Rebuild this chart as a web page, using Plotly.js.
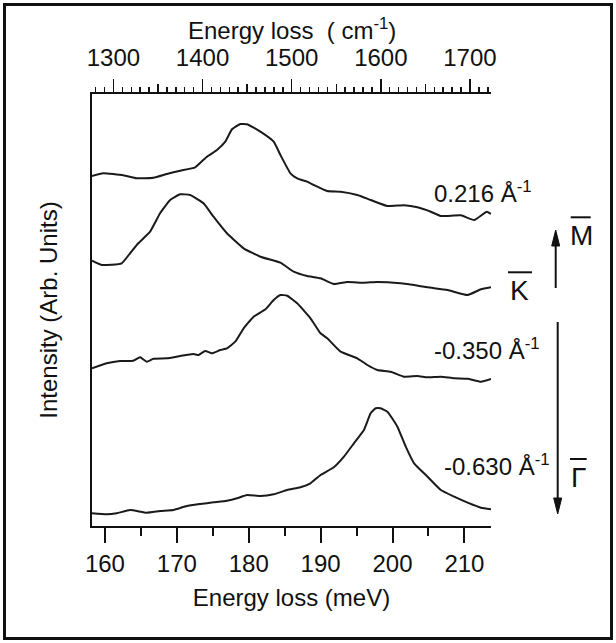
<!DOCTYPE html>
<html><head><meta charset="utf-8">
<script src="https://cdn.plot.ly/plotly-3.0.1.min.js"></script>
<style>html,body{margin:0;padding:0;background:#fff}#chart{width:616px;height:643px}</style>
</head><body><div id="chart"></div>
<script>
// ---- data (energy loss in meV, intensity in arbitrary units incl. vertical offset) ----
const energy_p0216 = [158.2,159.76,162.55,164.42,166.74,168.61,170.46,172.55,174.18,175.58,176.74,177.67,178.83,179.76,181.62,183.47,184.41,185.8,186.74,188.13,189.05,190.92,192.78,195.1,196.96,199.29,201.6,203.47,205.33,206.72,209.51,211.37,213.1,213.7];
const intensity_p0216 = [350,352.7,350.7,347.7,348.3,352,355.3,358.7,369.3,376,384.3,396.7,402,401.7,394.3,384.3,371,352.7,347.7,344.3,341,335,334.3,331,326,320,320.7,318.7,314.3,310,310.7,306,314.3,312];

const energy_K = [158.2,159.54,162.33,163.49,164.64,166.28,167.67,169.07,170.46,171.85,173.71,175.1,176.97,179.29,181.62,184.41,186.26,188.13,189.99,191.84,193.71,196.02,197.89,201.14,203.0,204.87,207.66,210.45,212.3,213.7];
const intensity_K = [265.3,261,262.7,272.7,282.7,294.3,312.7,326,331.7,331,322.7,309.3,292.7,277.7,269.3,263.3,254.3,250,247.7,242,244,243.3,244,242.7,241,238.7,236,231,236.7,238.7];

const energy_m0350 = [158.2,160.24,162.09,163.95,164.88,165.82,166.74,168.61,170.46,172.32,173.01,173.95,174.88,176.04,176.97,178.13,179.29,180.68,182.32,183.47,184.41,185.34,186.74,188.59,189.99,190.92,192.78,195.1,196.5,197.89,199.75,201.6,203.47,204.87,206.72,208.58,210.45,212.3,213.7];
const intensity_m0350 = [157.7,162.7,165,165.3,168.7,164.3,167.3,167.7,170,172,171,175,172.7,176,177.7,184.3,197.7,209.3,216.7,226,231,230.3,222.7,207.7,192.7,187.7,174.3,167.7,161,156,154.3,149.3,150,148.7,149.3,147.7,147.3,144.3,147];

const energy_m0630 = [158.2,160.24,161.63,163.49,165.82,167.67,169.53,171.39,173.25,175.1,176.97,178.37,179.76,181.62,183.47,185.34,187.2,188.59,189.99,191.84,193.24,194.63,196.02,196.96,197.66,198.35,199.29,200.68,201.84,203.0,204.87,206.72,208.58,210.45,212.3,213.7];
const intensity_m0630 = [12.7,11.7,12.7,16,13.3,15,16,20,22,23.7,25.3,27.7,31,30,31.7,36,38.7,42.7,51,58.7,69.3,82.7,96,112.7,117.7,117.7,114.3,99.3,79.3,62.7,49.3,36,29.3,23.3,18.3,16.7];

const meVTicks = [160,170,180,190,200,210];
const cmTicks = [1300,1400,1500,1600,1700];
const curveLabels = ['0.216 Å<sup>-1</sup>', '-0.350 Å<sup>-1</sup>', '-0.630 Å<sup>-1</sup>'];
const pointLabels = ['M', 'K', 'Γ'];
const topTitle = 'Energy loss\u00a0\u00a0( cm<sup>-1</sup>)';
const meVtoCm = 8.06554;
const meVRange = [158.2, 213.7];
const cmRange = meVRange.map(v => v * meVtoCm);

// ---- layout helpers (pixel -> paper) ----
const L = 92, T = 94, W = 399, H = 432;
const px = p => (p - L) / W;
const py = p => (T + H - p) / H;

const series = [
  [energy_p0216, intensity_p0216],
  [energy_K, intensity_K],
  [energy_m0350, intensity_m0350],
  [energy_m0630, intensity_m0630]
];
const traces = series.map(([x, y]) => ({
  x: x, y: y, type: 'scatter', mode: 'lines',
  line: {color: '#1a1a1a', width: 2, shape: 'spline', smoothing: 0.4},
  hoverinfo: 'x+y', showlegend: false
}));
// invisible carriers for the cm^-1 axes
['x2', 'x3'].forEach(ax => traces.push({
  x: energy_m0630.map(v => v * meVtoCm), y: intensity_m0630, xaxis: ax,
  type: 'scatter', mode: 'lines', opacity: 0, hoverinfo: 'skip', showlegend: false
}));

const font = 'Liberation Sans, Arial, Helvetica, sans-serif';
const ink = '#111';
const FS = 24;

const annotations = [
  {text: topTitle, x: 0.5, y: py(45), xanchor: 'center', yanchor: 'bottom', borderpad: 0},
  {text: curveLabels[0], x: px(432), y: py(192), xanchor: 'left', yanchor: 'middle'},
  {text: curveLabels[1], x: px(432), y: py(348.5), xanchor: 'left', yanchor: 'middle'},
  {text: curveLabels[2], x: px(442), y: py(465), xanchor: 'left', yanchor: 'middle'},
  {text: pointLabels[0], x: px(581), y: py(235.5), xanchor: 'center', yanchor: 'middle', font: {size: 28, family: font, color: ink}},
  {text: pointLabels[1], x: px(519), y: py(290), xanchor: 'center', yanchor: 'middle', font: {size: 28, family: font, color: ink}},
  {text: pointLabels[2], x: px(578), y: py(477), xanchor: 'center', yanchor: 'middle', font: {size: 28, family: font, color: ink}}
].map(a => Object.assign({xref: 'paper', yref: 'paper', showarrow: false, font: {size: FS, family: font, color: ink}}, a));

const ln = (x0, y0, x1, y1, w) => ({type: 'line', xref: 'paper', yref: 'paper',
  x0: px(x0), y0: py(y0), x1: px(x1), y1: py(y1), line: {color: ink, width: w}});
const tri = (pts) => ({type: 'path', xref: 'paper', yref: 'paper',
  path: 'M' + pts.map(p => px(p[0]) + ',' + py(p[1])).join(' L') + ' Z',
  fillcolor: ink, line: {color: ink, width: 1}});

const shapes = [
  // outer frame
  {type: 'rect', xref: 'paper', yref: 'paper', x0: px(4.5), x1: px(611.5), y0: py(638.5), y1: py(4.5),
   line: {color: ink, width: 3}, fillcolor: 'rgba(0,0,0,0)'},
  // overlines
  ln(570.7, 217.3, 590.7, 217.3, 2),
  ln(508, 272.3, 532, 272.3, 2),
  ln(570, 459, 586.7, 459, 2),
  // up arrow
  ln(555.7, 288, 555.7, 244, 2),
  tri([[555.7, 230], [551.7, 246], [559.7, 246]]),
  // down arrow
  ln(557.7, 322, 557.7, 500, 2),
  tri([[557.7, 514], [553.7, 498], [561.7, 498]])
];

const layout = {
  width: 616, height: 643,
  margin: {l: L, r: 616 - L - W, t: T, b: 643 - T - H, pad: 0},
  paper_bgcolor: '#fff', plot_bgcolor: '#fff',
  font: {family: font, size: FS, color: ink},
  showlegend: false,
  xaxis: {
    range: meVRange, tickvals: meVTicks, ticks: 'outside', ticklen: 15, tickwidth: 2, tickcolor: ink,
    minor: {dtick: 5, tick0: 160, ticks: 'outside', ticklen: 8, tickwidth: 2, tickcolor: ink, showgrid: false},
    showline: true, linewidth: 2, linecolor: ink, showgrid: false, zeroline: false,
    tickfont: {size: FS, family: font, color: ink},
    title: {text: 'Energy loss (meV)', font: {size: FS, family: font, color: ink}, standoff: 13}
  },
  xaxis2: {
    overlaying: 'x', side: 'top', anchor: 'y', range: cmRange, tickvals: cmTicks,
    ticks: 'outside', ticklen: 13, tickwidth: 1.5, tickcolor: ink, ticklabelstandoff: 3,
    minor: {dtick: 10, tick0: 1300, ticks: 'outside', ticklen: 5, tickwidth: 1.5, tickcolor: ink, showgrid: false},
    showline: true, linewidth: 2, linecolor: ink, showgrid: false, zeroline: false,
    tickfont: {size: FS, family: font, color: ink}
  },
  xaxis3: {
    overlaying: 'x', side: 'top', anchor: 'y', range: cmRange, tick0: 1250, dtick: 50,
    ticks: 'outside', ticklen: 9, tickwidth: 1.5, tickcolor: ink,
    showticklabels: false, showline: false, showgrid: false, zeroline: false
  },
  yaxis: {
    range: [0, H], showline: true, linewidth: 2, linecolor: ink, ticks: '', showticklabels: false,
    showgrid: false, zeroline: false,
    title: {text: 'Intensity (Arb. Units)', font: {size: FS, family: font, color: ink}, standoff: 26}
  },
  annotations: annotations,
  shapes: shapes
};

Plotly.newPlot('chart', traces, layout, {staticPlot: true, displayModeBar: false});
</script></body></html>
